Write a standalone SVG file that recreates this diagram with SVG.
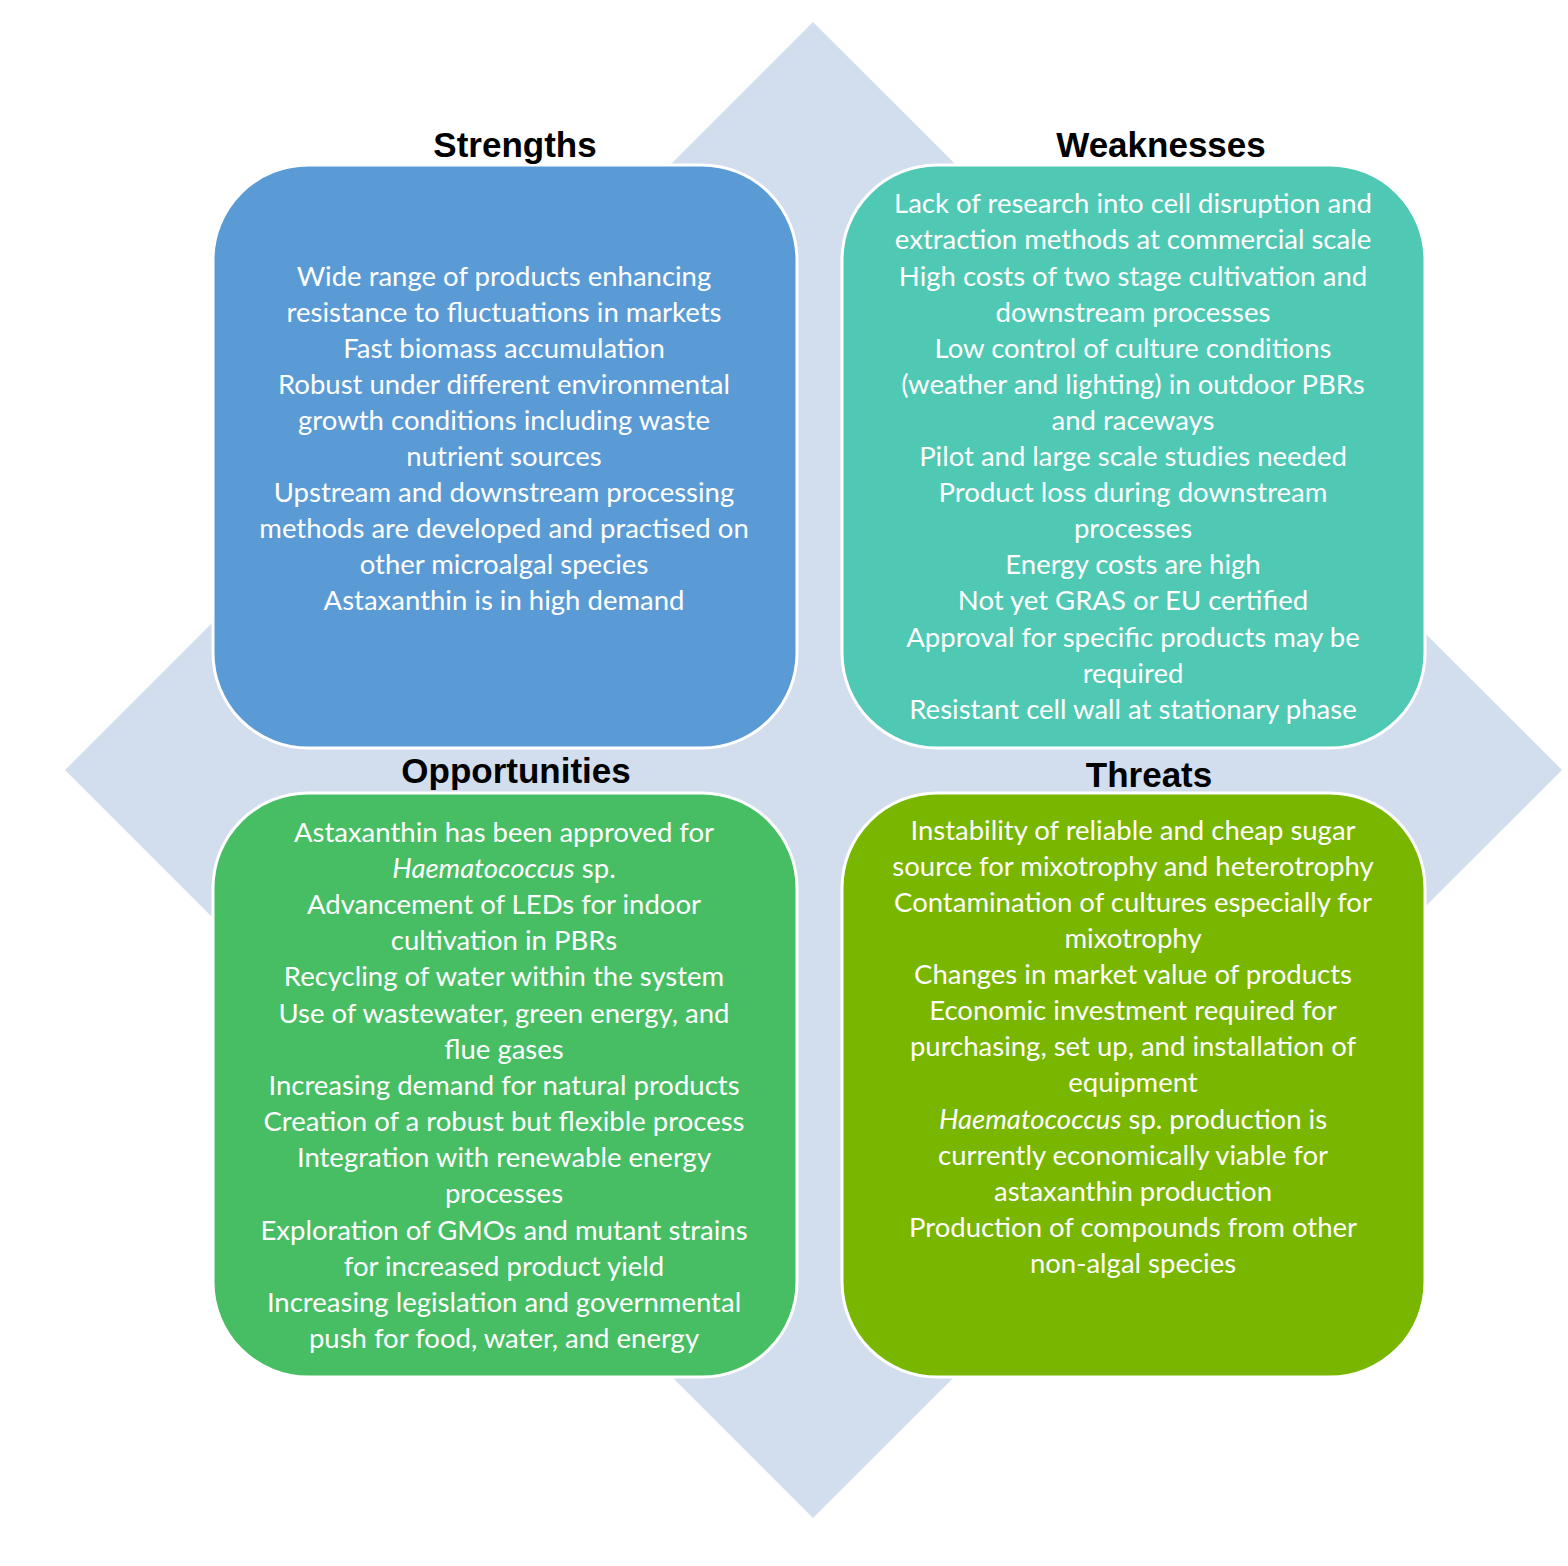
<svg xmlns="http://www.w3.org/2000/svg" width="1568" height="1566" viewBox="0 0 1568 1566">
<style>
.box{stroke:#ffffff;stroke-width:3}
.h{font-family:"Liberation Sans",Arial,sans-serif;font-weight:bold;font-size:35px;fill:#000;text-anchor:middle}
.t{font-family:Lato,"Open Sans",sans-serif;font-size:27.5px;fill:#ffffff;text-anchor:middle}
.i{font-style:italic}
</style>
<rect width="1568" height="1566" fill="#ffffff"/>
<polygon points="813,22 1562,770 813,1518 65,770" fill="#D2DDEE"/>
<g id="strengths">
<rect class="box" x="213" y="165" width="584" height="583" rx="95" fill="#5B9BD5"/>
<text class="h" x="515" y="157">Strengths</text>
<text class="t" x="504" y="286">Wide range of products enhancing</text>
<text class="t" x="504" y="322">resistance to fluctuations in markets</text>
<text class="t" x="504" y="358">Fast biomass accumulation</text>
<text class="t" x="504" y="394">Robust under different environmental</text>
<text class="t" x="504" y="430">growth conditions including waste</text>
<text class="t" x="504" y="466">nutrient sources</text>
<text class="t" x="504" y="502">Upstream and downstream processing</text>
<text class="t" x="504" y="538">methods are developed and practised on</text>
<text class="t" x="504" y="574">other microalgal species</text>
<text class="t" x="504" y="610">Astaxanthin is in high demand</text>
</g>
<g id="weaknesses">
<rect class="box" x="842" y="165" width="583" height="583" rx="95" fill="#4FC9B3"/>
<text class="h" x="1161" y="157">Weaknesses</text>
<text class="t" x="1133" y="213">Lack of research into cell disruption and</text>
<text class="t" x="1133" y="249">extraction methods at commercial scale</text>
<text class="t" x="1133" y="286">High costs of two stage cultivation and</text>
<text class="t" x="1133" y="322">downstream processes</text>
<text class="t" x="1133" y="358">Low control of culture conditions</text>
<text class="t" x="1133" y="394">(weather and lighting) in outdoor PBRs</text>
<text class="t" x="1133" y="430">and raceways</text>
<text class="t" x="1133" y="466">Pilot and large scale studies needed</text>
<text class="t" x="1133" y="502">Product loss during downstream</text>
<text class="t" x="1133" y="538">processes</text>
<text class="t" x="1133" y="574">Energy costs are high</text>
<text class="t" x="1133" y="610">Not yet GRAS or EU certified</text>
<text class="t" x="1133" y="647">Approval for specific products may be</text>
<text class="t" x="1133" y="683">required</text>
<text class="t" x="1133" y="719">Resistant cell wall at stationary phase</text>
</g>
<g id="opportunities">
<rect class="box" x="213" y="793" width="584" height="584" rx="95" fill="#47BE63"/>
<text class="h" x="516" y="783">Opportunities</text>
<text class="t" x="504" y="842">Astaxanthin has been approved for</text>
<text class="t" x="504" y="878"><tspan class="i">Haematococcus</tspan> sp.</text>
<text class="t" x="504" y="914">Advancement of LEDs for indoor</text>
<text class="t" x="504" y="950">cultivation in PBRs</text>
<text class="t" x="504" y="986">Recycling of water within the system</text>
<text class="t" x="504" y="1023">Use of wastewater, green energy, and</text>
<text class="t" x="504" y="1059">flue gases</text>
<text class="t" x="504" y="1095">Increasing demand for natural products</text>
<text class="t" x="504" y="1131">Creation of a robust but flexible process</text>
<text class="t" x="504" y="1167">Integration with renewable energy</text>
<text class="t" x="504" y="1203">processes</text>
<text class="t" x="504" y="1240">Exploration of GMOs and mutant strains</text>
<text class="t" x="504" y="1276">for increased product yield</text>
<text class="t" x="504" y="1312">Increasing legislation and governmental</text>
<text class="t" x="504" y="1348">push for food, water, and energy</text>
</g>
<g id="threats">
<rect class="box" x="842" y="793" width="583" height="584" rx="95" fill="#78B600"/>
<text class="h" x="1149" y="787">Threats</text>
<text class="t" x="1133" y="840">Instability of reliable and cheap sugar</text>
<text class="t" x="1133" y="876">source for mixotrophy and heterotrophy</text>
<text class="t" x="1133" y="912">Contamination of cultures especially for</text>
<text class="t" x="1133" y="948">mixotrophy</text>
<text class="t" x="1133" y="984">Changes in market value of products</text>
<text class="t" x="1133" y="1020">Economic investment required for</text>
<text class="t" x="1133" y="1056">purchasing, set up, and installation of</text>
<text class="t" x="1133" y="1092">equipment</text>
<text class="t" x="1133" y="1129"><tspan class="i">Haematococcus</tspan> sp. production is</text>
<text class="t" x="1133" y="1165">currently economically viable for</text>
<text class="t" x="1133" y="1201">astaxanthin production</text>
<text class="t" x="1133" y="1237">Production of compounds from other</text>
<text class="t" x="1133" y="1273">non-algal species</text>
</g>
<g id="connectors"/>
</svg>
